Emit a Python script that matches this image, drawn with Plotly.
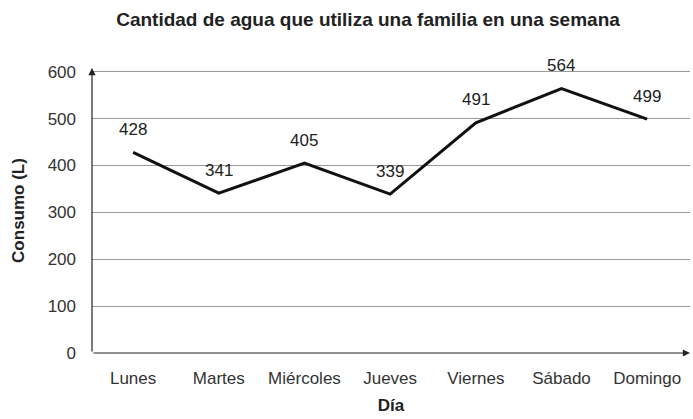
import plotly.graph_objects as go

# Weekly water use of a family
dias = ["Lunes", "Martes", "Miércoles", "Jueves", "Viernes", "Sábado", "Domingo"]
consumo = [428, 341, 405, 339, 491, 564, 499]
y_ticks = [0, 100, 200, 300, 400, 500, 600]

x_pos = list(range(len(dias)))
x_min, x_max = -0.48, 6.5
y_min, y_max = 0, 608

font_main = "Liberation Sans, Arial, sans-serif"

fig = go.Figure()
fig.add_trace(go.Scatter(
    x=x_pos, y=consumo, mode="lines",
    line=dict(color="#111111", width=3),
    hoverinfo="skip", showlegend=False,
))

# value labels above each point
for xi, v in zip(x_pos, consumo):
    fig.add_annotation(x=xi, y=v, text=str(v), showarrow=False,
                       yshift=23, font=dict(size=17, color="#222222", family=font_main))

# axis lines with arrow heads
fig.add_annotation(x=x_min, y=y_max, ax=x_min, ay=y_min, xref="x", yref="y",
                   axref="x", ayref="y", showarrow=True, arrowhead=2,
                   arrowsize=1.2, arrowwidth=1.2, arrowcolor="#222222", text="")
fig.add_annotation(x=x_max, y=y_min, ax=x_min, ay=y_min, xref="x", yref="y",
                   axref="x", ayref="y", showarrow=True, arrowhead=2,
                   arrowsize=1.2, arrowwidth=1.2, arrowcolor="#222222", text="")

fig.update_layout(
    width=693, height=419,
    margin=dict(l=92, r=3, t=68, b=66),
    paper_bgcolor="white", plot_bgcolor="white",
    title=dict(text="<b>Cantidad de agua que utiliza una familia en una semana</b>",
               x=368 / 693, xanchor="center", y=1 - 19 / 419, yanchor="middle",
               xref="container", yref="container",
               font=dict(size=19, color="#222222", family=font_main)),
    xaxis=dict(range=[x_min, x_max], tickvals=x_pos, ticktext=dias,
               showgrid=False, zeroline=False, showline=False, ticks="",
               ticklabelstandoff=13,
               tickfont=dict(size=17, color="#333333", family=font_main),
               title=dict(text="<b>Día</b>", standoff=12,
                          font=dict(size=17, color="#222222", family=font_main))),
    yaxis=dict(range=[y_min, y_max], tickvals=y_ticks,
               showgrid=True, gridcolor="#9a9a9a", gridwidth=1,
               zeroline=False, showline=False, ticks="",
               ticklabelstandoff=15,
               tickfont=dict(size=17, color="#333333", family=font_main),
               title=dict(text="<b>Consumo (L)</b>", standoff=18,
                          font=dict(size=17, color="#222222", family=font_main))),
)

fig.write_html("out.html")
